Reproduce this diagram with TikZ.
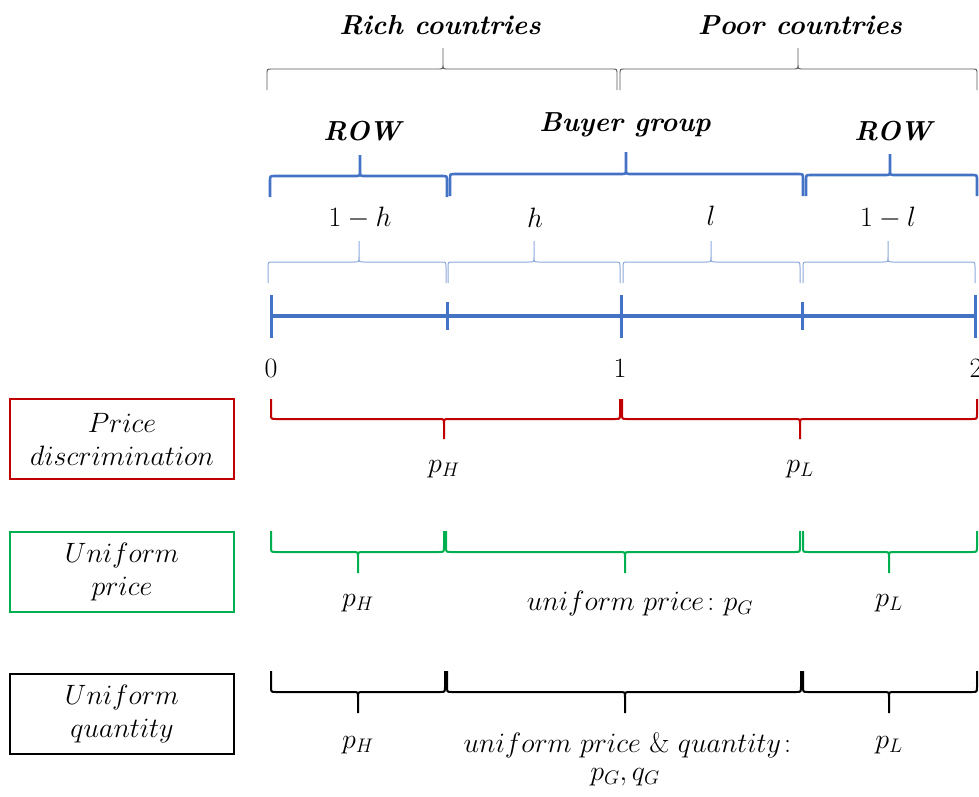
\RequirePackage{fix-cm}
\documentclass[tikz,border=0pt]{standalone}
\usepackage{amsmath}
\definecolor{obl}{HTML}{4472C4}
\definecolor{lbl}{HTML}{8EA9DB}
\definecolor{ored}{HTML}{C00000}
\definecolor{ogr}{HTML}{00B050}
\definecolor{gry}{HTML}{595959}
% #1 x1, #2 x2, #3 tip x, #4 line y, #5 end offset (signed), #6 style
\newcommand\brc[6]{%
  \draw[#6] (#1,{#4+(#5)}) -- (#1,{#4+0.25*(#5)}) .. controls (#1,#4) .. ({#1+5},#4)
    -- ({#3-5},#4) .. controls (#3,#4) .. (#3,{#4-0.25*(#5)}) -- (#3,{#4-(#5)})
    (#3,{#4-0.25*(#5)}) .. controls (#3,#4) .. ({#3+5},#4)
    -- ({#2-5},#4) .. controls (#2,#4) .. (#2,{#4+0.25*(#5)}) -- (#2,{#4+(#5)});}
\begin{document}
\begin{tikzpicture}[x=1pt,y=-1pt,
  hdr/.style={font=\fontsize{27.5}{32}\selectfont\bfseries\itshape, inner sep=0pt},
  mlab/.style={font=\fontsize{28}{32}\selectfont, inner sep=0pt},
  numlab/.style={font=\fontsize{28}{32}\selectfont, inner sep=0pt},
  modebox/.style={draw, line width=1.5pt, minimum width=224pt, minimum height=80pt,
     align=center, inner sep=0pt, font=\fontsize{28}{33}\selectfont},
  greyb/.style={gry, line width=0.9pt},
  blueb/.style={obl, line width=2.6pt},
  lblueb/.style={lbl, line width=1pt},
  redb/.style={ored, line width=2pt},
  greenb/.style={ogr, line width=2pt},
  blackb/.style={black, line width=2pt},
  tick/.style={obl, line width=3pt}]
\useasboundingbox (0,0) rectangle (979,796);

% header labels
\node[hdr] (rich) at (440,25) {Rich countries};
\node[hdr] (poor) at (800,25) {Poor countries};
\brc{267}{617}{443}{69}{21}{greyb}
\brc{620}{977}{798}{69}{21}{greyb}

\node[hdr] (row1) at (362,131) {ROW};
\node[hdr] (buyer) at (625,125) {Buyer group};
\node[hdr] (row2) at (893,131) {ROW};
\brc{270}{447}{360}{176}{21}{blueb}
\brc{450}{803}{626}{174}{22}{blueb}
\brc{806}{977}{890}{175}{21}{blueb}

\node[mlab] (l1) at (360,218) {$1-h$};
\node[mlab] (l2) at (535,218) {$h$};
\node[mlab] (l3) at (711,216) {$l$};
\node[mlab] (l4) at (888,218) {$1-l$};
\brc{268}{446}{359}{262}{21}{lblueb}
\brc{448}{620}{534}{262}{21}{lblueb}
\brc{623}{800}{711}{262}{21}{lblueb}
\brc{803}{975}{888}{262}{21}{lblueb}

% number line
\coordinate (n0) at (271,316);
\coordinate (n1) at (447,316);
\coordinate (n2) at (621,316);
\coordinate (n3) at (802,316);
\coordinate (n4) at (975,316);
\draw[obl, line width=4pt] (n0) -- (n4);
\draw[tick] ([yshift=-22pt]n0) -- ([yshift=21pt]n0);
\draw[tick] ([yshift=-14pt]n1) -- ([yshift=14pt]n1);
\draw[tick] ([yshift=-22pt]n2) -- ([yshift=21pt]n2);
\draw[tick] ([yshift=-14pt]n3) -- ([yshift=14pt]n3);
\draw[tick] ([yshift=-22pt]n4) -- ([yshift=21pt]n4);
\node[numlab] (z0) at (271,368) {0};
\node[numlab] (z1) at (620,368) {1};
\node[numlab] (z2) at (976,368) {2};

% price discrimination
\node[modebox, ored] (pd) at (122,439) {\color{black}$Price$\\\color{black}$discrimination$};
\brc{271}{620}{444}{419}{-20}{redb}
\brc{622}{977}{800}{419}{-20}{redb}
\node[mlab] (pd1) at (444,469) {$p_H$};
\node[mlab] (pd2) at (800,469) {$p_L$};

% uniform price
\node[modebox, ogr] (up) at (122,572) {\color{black}$Uniform$\\\color{black}$price$};
\brc{271}{444}{358}{552}{-21}{greenb}
\brc{446}{800}{625}{552}{-21}{greenb}
\brc{803}{977}{889}{552}{-21}{greenb}
\node[mlab] (up1) at (358,603) {$p_H$};
\node[mlab] (up2) at (640,603) {$uniform\ price\colon p_G$};
\node[mlab] (up3) at (889,603) {$p_L$};

% uniform quantity
\node[modebox, black] (uq) at (122,714) {$Uniform$\\$quantity$};
\brc{271}{445}{358}{692}{-21}{blackb}
\brc{447}{801}{625}{692}{-21}{blackb}
\brc{803}{977}{889}{692}{-21}{blackb}
\node[mlab] (uq1) at (358,745) {$p_H$};
\node[mlab] (uq2) at (632,745) {$uniform\ price\ \&\ quantity\colon$};
\node[mlab] (uq3) at (625,777) {$p_G, q_G$};
\node[mlab] (uq4) at (889,745) {$p_L$};
\end{tikzpicture}
\end{document}
